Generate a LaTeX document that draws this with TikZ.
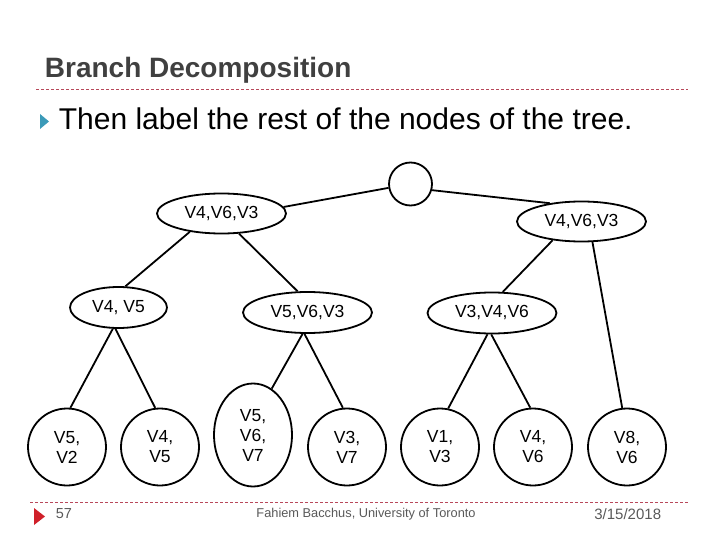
\documentclass[tikz,border=0pt]{standalone}
\usepackage{fontspec}
\setmainfont{Liberation Sans}
\usepackage{tikz}
\usetikzlibrary{shapes.geometric}
\definecolor{titlegray}{HTML}{404040}
\definecolor{footgray}{HTML}{595959}
\definecolor{rulered}{HTML}{B8485A}
\definecolor{bulletteal}{HTML}{3B9AB8}
\definecolor{footred}{HTML}{D0202A}

\begin{document}
\begin{tikzpicture}[x=1pt, y=-1pt, line width=1.8pt,
    bag/.style={draw, ellipse, inner sep=0pt, minimum width=129pt, minimum height=40pt,
      font=\fontsize{17.5}{20}\selectfont},
    leaf/.style={bag, align=center, minimum width=78pt, minimum height=77pt},
    slideline/.style={rulered, line width=0.7pt, dash pattern=on 3pt off 2pt}]
    \useasboundingbox (0,0) rectangle (720,540);

    % header
    \node[anchor=base west, inner sep=0pt, text=titlegray,
      font=\bfseries\fontsize{28}{30}\selectfont] (title) at (44,78) {Branch Decomposition};
    \coordinate (hl) at (36,89);
    \coordinate (hr) at (688,89);
    \draw[slideline] (hl) -- (hr);
    \fill[bulletteal] (40,114) -- (49,121.5) -- (40,129) -- cycle;
    \node[anchor=base west, inner sep=0pt, font=\fontsize{30}{32}\selectfont]
      (bullet) at (58,130) {Then label the rest of the nodes of the tree.};

    % tree
    \node[draw, circle, inner sep=0pt, minimum size=43pt] (root) at (410.5,184) {};
    \node[bag] (l) at (221.5,213.5) {V4,V6,V3};
    \node[bag] (r) at (581.5,221.5) {V4,V6,V3};
    \node[bag, minimum width=97pt, minimum height=41pt] (ll) at (118.5,307.5) {V4, V5};
    \node[bag, minimum height=41pt] (lr) at (307.5,312.5) {V5,V6,V3};
    \node[bag, minimum height=41pt] (rl) at (492,313) {V3,V4,V6};

    \node[leaf] (a) at (67,447) {V5,\\V2};
    \node[leaf] (b) at (160,447) {V4,\\V5};
    \node[leaf, minimum height=103pt] (c) at (253,435) {V5,\\V6,\\V7};
    \node[leaf] (d) at (347,447) {V3,\\V7};
    \node[leaf] (e) at (440,447) {V1,\\V3};
    \node[leaf] (f) at (533,447) {V4,\\V6};
    \node[leaf] (g) at (627,447) {V8,\\V6};

    \path
    (root.190) edge (l.6)
    (root.-16) edge (r.150)
    (l.210) edge (ll.72)
    (l.-49) edge (lr.115)
    (r.213) edge (rl.63)
    (r.-62) edge (g.97)
    (ll.255) edge (a.85)
    (ll.262) edge (b.97)
    (lr.257) edge (c.68)
    (lr.262) edge (d.96)
    (rl.258) edge (e.78)
    (rl.268) edge (f.94)
    ;

    % footer
    \coordinate (fl) at (30,502);
    \coordinate (fr) at (688,502);
    \draw[slideline] (fl) -- (fr);
    \fill[footred] (34,508) -- (45,516.5) -- (34,525) -- cycle;
    \node[anchor=west, inner sep=0pt, text=footgray, font=\fontsize{14.5}{16}\selectfont]
      (page) at (55,514) {57};
    \node[inner sep=0pt, text=footgray, font=\fontsize{12.8}{14}\selectfont]
      (author) at (366,514) {Fahiem Bacchus, University of Toronto};
    \node[anchor=east, inner sep=0pt, text=footgray, font=\fontsize{15}{16}\selectfont]
      (date) at (662,514) {3/15/2018};
\end{tikzpicture}
\end{document}
